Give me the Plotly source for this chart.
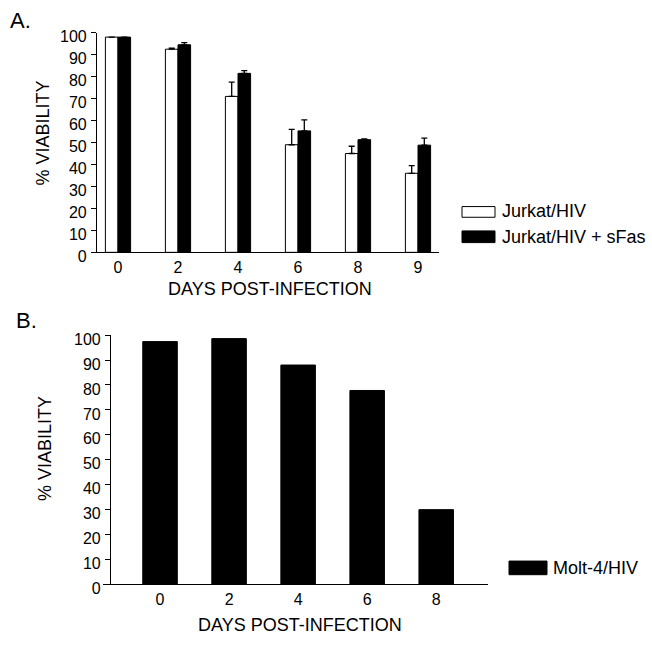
import plotly.graph_objects as go

# ---------------- data ----------------
days_a = ["0", "2", "4", "6", "8", "9"]
jurkat = [98, 92.5, 71, 49, 45, 36]
jurkat_err = [0, 0.5, 6.5, 7, 3.3, 3.5]
jurkat_sfas = [98, 94.5, 81.5, 55.3, 51.3, 48.8]
jurkat_sfas_err = [0, 1, 1.2, 5, 0.3, 3.2]

days_b = ["0", "2", "4", "6", "8"]
molt4 = [97.4, 98.6, 88, 77.8, 30]

y_ticks = [0, 10, 20, 30, 40, 50, 60, 70, 80, 90, 100]

FONT = "Arial, Liberation Sans, Helvetica, sans-serif"
W, H = 652, 651

def px(x):
    return x / W

def py(y):
    return 1 - y / H

fig = go.Figure()

fig.add_trace(go.Bar(
    x=days_a, y=jurkat, name="Jurkat/HIV",
    marker=dict(color="white", line=dict(color="black", width=1)),
    error_y=dict(type="data", symmetric=False, array=jurkat_err,
                 arrayminus=[0] * len(jurkat_err), color="black",
                 thickness=1.3, width=3),
    xaxis="x", yaxis="y", showlegend=False,
))
fig.add_trace(go.Bar(
    x=days_a, y=jurkat_sfas, name="Jurkat/HIV + sFas",
    marker=dict(color="black", line=dict(color="black", width=1)),
    error_y=dict(type="data", symmetric=False, array=jurkat_sfas_err,
                 arrayminus=[0] * len(jurkat_sfas_err), color="black",
                 thickness=1.3, width=3),
    xaxis="x", yaxis="y", showlegend=False,
))
fig.add_trace(go.Bar(
    x=days_b, y=molt4, name="Molt-4/HIV",
    marker=dict(color="black", line=dict(color="black", width=1)),
    width=0.5,
    xaxis="x2", yaxis="y2", showlegend=False,
))

axis_common = dict(showline=True, linecolor="black", linewidth=1.2,
                   showgrid=False, zeroline=False, mirror=False,
                   tickfont=dict(family=FONT, size=16, color="black"))
yaxis_extra = dict(range=[0, 100], tickvals=y_ticks, ticks="outside", ticklen=5,
                   tickcolor="black", tickwidth=1.2, ticklabelshift=4,
                   ticklabelstandoff=1)

fig.update_layout(
    width=W, height=H,
    margin=dict(l=0, r=0, t=0, b=0),
    paper_bgcolor="white", plot_bgcolor="white",
    barmode="group", bargap=0.58, bargroupgap=0,
    font=dict(family=FONT, color="black"),
    xaxis=dict(domain=[px(97), px(439)], anchor="y", type="category",
               range=[-0.35, 5.35], ticks="", **axis_common),
    yaxis=dict(domain=[py(255), py(29.5)], anchor="x", **yaxis_extra, **axis_common),
    xaxis2=dict(domain=[px(103), px(488)], anchor="y2", type="category",
                range=[-0.826, 4.75], ticks="", **axis_common),
    yaxis2=dict(domain=[py(596), py(340)], anchor="free", position=px(110),
                **yaxis_extra, **axis_common),
)

annos = [
    dict(text="A.", x=px(8), y=py(17), xanchor="left", yanchor="middle", size=22),
    dict(text="B.", x=px(14), y=py(325), xanchor="left", yanchor="middle", size=22),
    dict(text="% VIABILITY", x=px(43), y=py(132), xanchor="center", yanchor="middle", size=18, angle=-90),
    dict(text="% VIABILITY", x=px(45), y=py(457), xanchor="center", yanchor="middle", size=18, angle=-90),
    dict(text="DAYS POST-INFECTION", x=px(270), y=py(293), xanchor="center", yanchor="middle", size=18),
    dict(text="DAYS POST-INFECTION", x=px(300), y=py(638), xanchor="center", yanchor="middle", size=18),
    dict(text="Jurkat/HIV", x=px(500), y=py(213), xanchor="left", yanchor="middle", size=18),
    dict(text="Jurkat/HIV + sFas", x=px(500), y=py(239), xanchor="left", yanchor="middle", size=18),
    dict(text="Molt-4/HIV", x=px(551), y=py(579), xanchor="left", yanchor="middle", size=18),
]
for a in annos:
    fig.add_annotation(text=a["text"], x=a["x"], y=a["y"], xref="paper", yref="paper",
                       xanchor=a["xanchor"], yanchor=a["yanchor"], showarrow=False,
                       textangle=a.get("angle", 0),
                       font=dict(family=FONT, size=a["size"], color="black"))

# legend swatches
fig.add_shape(type="rect", xref="paper", yref="paper", x0=px(462), x1=px(495),
              y0=py(219), y1=py(208), fillcolor="white", line=dict(color="black", width=1))
fig.add_shape(type="rect", xref="paper", yref="paper", x0=px(462), x1=px(495),
              y0=py(245), y1=py(233), fillcolor="black", line=dict(color="black", width=1))
fig.add_shape(type="rect", xref="paper", yref="paper", x0=px(509), x1=px(547),
              y0=py(586), y1=py(572), fillcolor="black", line=dict(color="black", width=1))

fig.write_html("out.html", config={"displayModeBar": False},
               post_script="document.body.style.margin='0';document.body.style.overflow='hidden';")
